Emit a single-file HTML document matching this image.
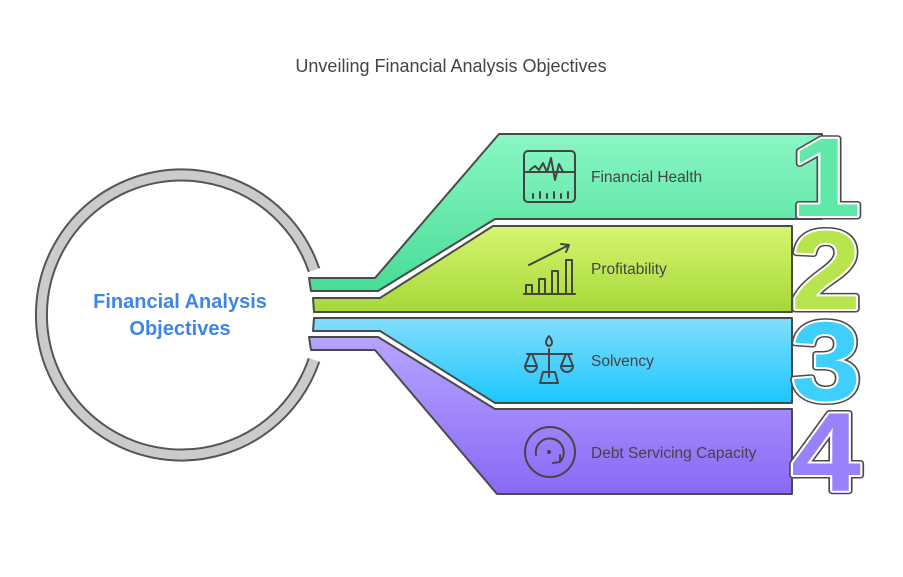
<!DOCTYPE html>
<html><head><meta charset="utf-8"><style>
html,body{margin:0;padding:0;background:#fff;width:903px;height:577px;overflow:hidden}
svg{display:block}
</style></head><body>
<svg width="903" height="577" viewBox="0 0 903 577" xmlns="http://www.w3.org/2000/svg" font-family="Liberation Sans, sans-serif">
<defs>
<linearGradient id="g1" x1="0" y1="0" x2="0" y2="1"><stop offset="0" stop-color="#8af7c4"/><stop offset="1" stop-color="#48dc96"/></linearGradient>
<linearGradient id="g2" x1="0" y1="0" x2="0" y2="1"><stop offset="0" stop-color="#d6f670"/><stop offset="1" stop-color="#a5d838"/></linearGradient>
<linearGradient id="g3" x1="0" y1="0" x2="0" y2="1"><stop offset="0" stop-color="#82defd"/><stop offset="1" stop-color="#1cc6fd"/></linearGradient>
<linearGradient id="g4" x1="0" y1="0" x2="0" y2="1"><stop offset="0" stop-color="#b6a4ff"/><stop offset="1" stop-color="#8a68f6"/></linearGradient>
</defs>
<text x="451" y="72" text-anchor="middle" font-size="18" fill="#444">Unveiling Financial Analysis Objectives</text>

<path d="M 314 270 A 140 140 0 1 0 314 360" fill="none" stroke="#555" stroke-width="13"/>
<path d="M 314 270 A 140 140 0 1 0 314 360" fill="none" stroke="#cbcbcb" stroke-width="9"/>
<text x="180" y="308" text-anchor="middle" font-size="20" font-weight="bold" fill="#3d86e8">Financial Analysis</text>
<text x="180" y="335" text-anchor="middle" font-size="20" font-weight="bold" fill="#3d86e8">Objectives</text>

<g stroke="#4a4a4a" stroke-width="2" stroke-linejoin="round">
<path d="M309 278 L375 278 L499 134 L822 134 L822 219 L495 219 L378 291 L311 291 Z" fill="url(#g1)"/>
<path d="M313 298 L380 298 L493 226 L792 226 L792 312 L314 312 Z" fill="url(#g2)"/>
<path d="M314 318 L792 318 L792 403 L495 403 L380 331 L313 331 Z" fill="url(#g3)"/>
<path d="M309 337 L378 337 L495 409 L792 409 L792 494 L497 494 L375 350 L311 350 Z" fill="url(#g4)"/>
</g>

<g font-size="112" font-weight="bold" text-anchor="middle" transform="translate(826,0) scale(1.12,1)">
<g stroke="#4a4a4a" stroke-width="7" stroke-linejoin="round" fill="#4a4a4a">
<text x="0" y="216">1</text><text x="0" y="309">2</text><text x="0" y="400">3</text><text x="0" y="491">4</text></g>
<g stroke="#fff" stroke-width="4" stroke-linejoin="round" fill="#fff">
<text x="0" y="216">1</text><text x="0" y="309">2</text><text x="0" y="400">3</text><text x="0" y="491">4</text></g>
<text x="0" y="216" fill="#5fe8a8">1</text>
<text x="0" y="309" fill="#b8e44e">2</text>
<text x="0" y="400" fill="#3ecffd">3</text>
<text x="0" y="491" fill="#9a80fa">4</text>
</g>

<g fill="none" stroke="#444" stroke-width="2" stroke-linecap="round" stroke-linejoin="round">
<rect x="524" y="151" width="51" height="51" rx="4"/>
<line x1="524" y1="172" x2="575" y2="172"/>
<path d="M530 170 L535 166 L539 170 L543 163 L547 172 L551 158 L555 180 L559 164 L563 172 L570 172"/>
<path d="M533 198v-4 M540 198v-6 M547 198v-4 M554 198v-6 M561 198v-4 M568 198v-6"/>
<path d="M524 294 L575 294"/>
<rect x="526" y="285" width="6" height="9"/><rect x="539" y="279" width="6" height="15"/><rect x="552" y="271" width="6" height="23"/><rect x="566" y="260" width="6" height="34"/>
<path d="M529 265 L569 245 M561 244 L569 245 L566 252"/>
<path d="M549 349 V377 M527 354 H572 M530 354 L525 366 H537 L532 354 M566 354 L561 366 H573 L568 354 M525 366 a6 6 0 0 0 12 0 M561 366 a6 6 0 0 0 12 0"/>
<path d="M549 336 C545 341 545 345 549 346 C553 345 553 341 549 336 Z"/>
<path d="M543 372 H555 L558 383 H540 Z"/>
<circle cx="550" cy="452" r="25"/>
<path d="M536 455 A14 14 0 1 1 560 462 M560 462 L560 455 M560 462 L553 463"/>
<circle cx="549" cy="452" r="1" fill="#444"/>
</g>
<g font-size="15.5" fill="#444">
<text x="591" y="182">Financial Health</text>
<text x="591" y="274">Profitability</text>
<text x="591" y="366">Solvency</text>
<text x="591" y="458">Debt Servicing Capacity</text>
</g>
</svg>
</body></html>
